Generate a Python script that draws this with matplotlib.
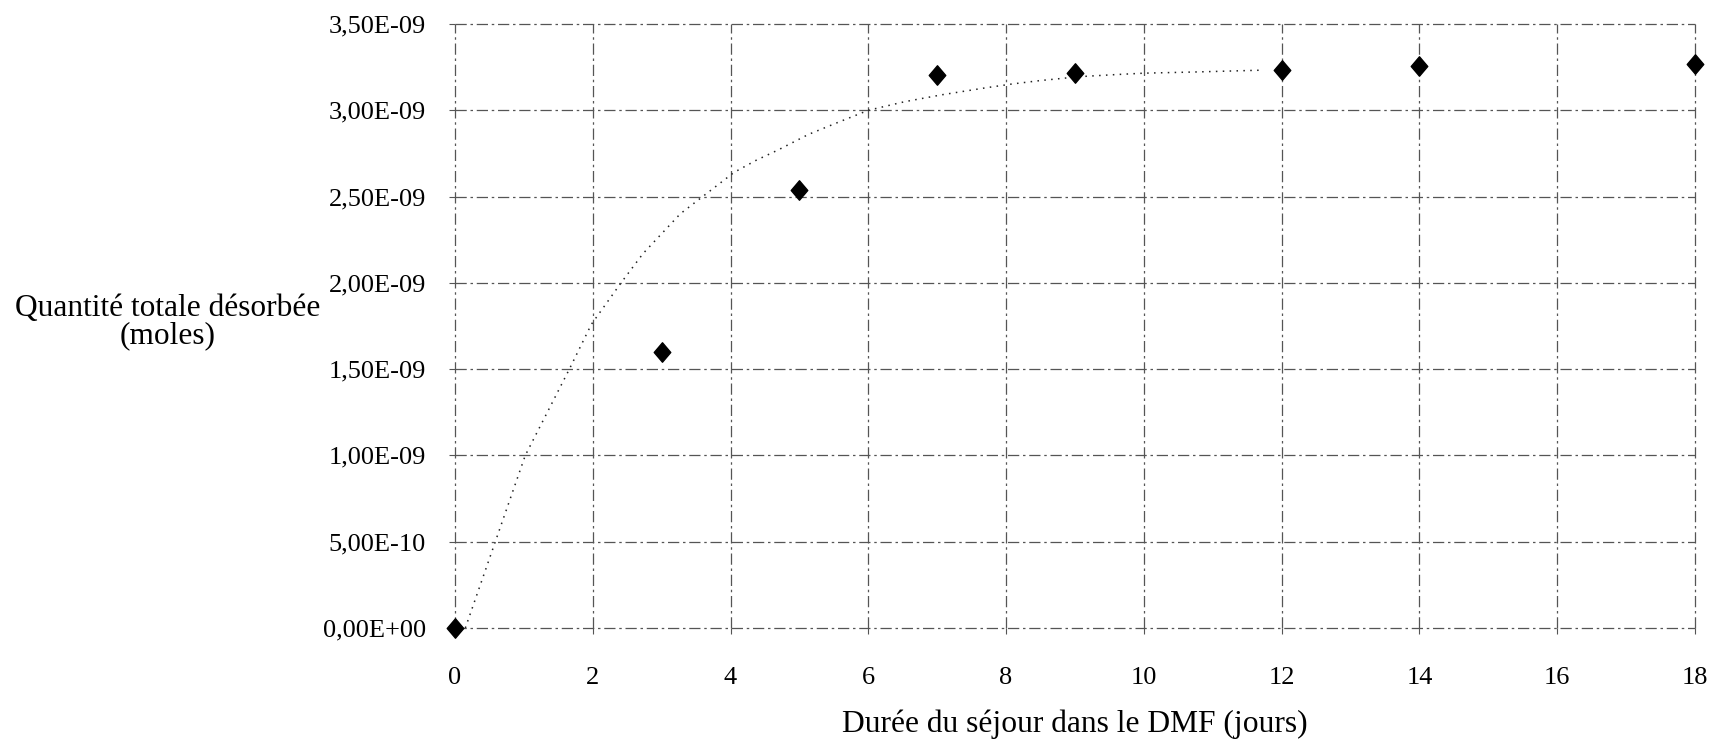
import matplotlib
matplotlib.use("Agg")
import matplotlib.pyplot as plt
from matplotlib.path import Path
import numpy as np

# Measured data points
days = [0, 3, 5, 7, 9, 12, 14, 18]
moles = [0.0, 1.60e-9, 2.54e-9, 3.205e-9, 3.215e-9, 3.235e-9, 3.255e-9, 3.27e-9]

# Trend curve points (visible part)
trend_x = [0.15, 0.585, 1.02, 1.66, 1.98, 2.41, 2.73, 3.27, 3.66, 4.05, 4.37, 4.69,
           5.13, 5.56, 6.0, 6.53, 7.07, 7.70, 8.08, 8.49, 9.07, 9.6, 10.0, 10.75, 11.67]
trend_y = [0.0, 0.5e-9, 1.0e-9, 1.5e-9, 1.76e-9, 2.0e-9, 2.17e-9, 2.40e-9, 2.52e-9,
           2.64e-9, 2.71e-9, 2.77e-9, 2.86e-9, 2.93e-9, 3.0e-9, 3.05e-9, 3.09e-9,
           3.13e-9, 3.152e-9, 3.172e-9, 3.195e-9, 3.207e-9, 3.215e-9, 3.222e-9, 3.232e-9]

x_ticks = [0, 2, 4, 6, 8, 10, 12, 14, 16, 18]
y_ticks = [0, 0.5e-9, 1.0e-9, 1.5e-9, 2.0e-9, 2.5e-9, 3.0e-9, 3.5e-9]
y_tick_labels = ["0,00E+00", "5,00E-10", "1,00E-09", "1,50E-09",
                 "2,00E-09", "2,50E-09", "3,00E-09", "3,50E-09"]

plt.rcParams['font.family'] = ['Liberation Serif', 'DejaVu Serif']

fig = plt.figure(figsize=(17.15, 7.44), dpi=100)
ax = fig.add_axes([455/1715, 1 - 628/744, (1695 - 455)/1715, (628 - 24)/744])

ax.set_xlim(0, 18)
ax.set_ylim(0, 3.5e-9)
ax.set_xticks(x_ticks)
ax.set_xticklabels([str(t) for t in x_ticks])
ax.set_yticks(y_ticks)
ax.set_yticklabels(y_tick_labels)

for s in ax.spines.values():
    s.set_visible(False)

ax.grid(True, color='#555555', linestyle=(0, (9, 3, 2, 3)), linewidth=0.9)
for gl in ax.get_xgridlines() + ax.get_ygridlines():
    gl.set_clip_on(False)
ax.set_axisbelow(True)
ax.tick_params(axis='both', length=4, width=0.8, color='#555555',
               labelsize=19, colors='black')
ax.tick_params(axis='y', pad=17)
ax.tick_params(axis='x', pad=24)

ax.plot(trend_x, trend_y, linestyle=(0, (1, 3.5)), color='#222222',
        linewidth=1.1, zorder=2)

diamond = Path([(0, 1), (0.85, 0), (0, -1), (-0.85, 0), (0, 1)],
               [Path.MOVETO, Path.LINETO, Path.LINETO, Path.LINETO, Path.CLOSEPOLY])
ax.scatter(days, moles, marker=diamond, s=14**2, color='black', zorder=3,
           clip_on=False)

fig.text(1075/1715, 1 - 724/744, "Durée du séjour dans le DMF (jours)",
         ha='center', va='center', fontsize=22.7)
fig.text(168/1715, 1 - 322/744, "Quantité totale désorbée\n(moles)",
         ha='center', va='center', fontsize=22.6, linespacing=0.95)

fig.savefig("out.png", dpi=100)
